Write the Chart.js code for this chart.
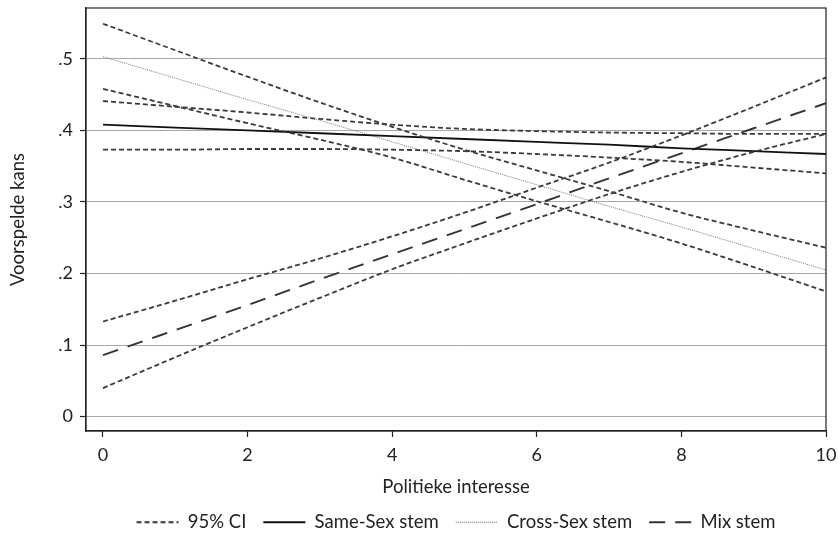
<!DOCTYPE html>
<html>
<head>
<meta charset="utf-8">
<script src="https://cdn.jsdelivr.net/npm/chart.js@4"></script>
<style>
  html, body { margin: 0; padding: 0; background: #fff; }
  #wrap { width: 838px; height: 537px; }
</style>
</head>
<body>
<div id="wrap"><canvas id="chart"></canvas></div>
<script>
// Politieke interesse (x) and predicted probabilities
const xValues = [0, 1, 2, 3, 4, 5, 6, 7, 8, 9, 10];

const sameSex      = [0.408, 0.404, 0.400, 0.396, 0.392, 0.388, 0.384, 0.380, 0.375, 0.371, 0.367];
const sameSexUpper = [0.441, 0.433, 0.425, 0.416, 0.408, 0.402, 0.399, 0.397, 0.396, 0.395, 0.395];
const sameSexLower = [0.373, 0.373, 0.374, 0.374, 0.373, 0.371, 0.367, 0.362, 0.356, 0.348, 0.340];

const crossSex      = [0.503, 0.473, 0.443, 0.414, 0.384, 0.354, 0.324, 0.294, 0.265, 0.235, 0.205];
const crossSexUpper = [0.549, 0.512, 0.475, 0.439, 0.405, 0.373, 0.344, 0.315, 0.285, 0.260, 0.236];
const crossSexLower = [0.458, 0.434, 0.410, 0.387, 0.362, 0.331, 0.301, 0.272, 0.242, 0.209, 0.175];

const mixStem  = [0.086, 0.121, 0.156, 0.192, 0.227, 0.262, 0.297, 0.333, 0.368, 0.403, 0.438];
const mixUpper = [0.133, 0.162, 0.192, 0.221, 0.252, 0.285, 0.320, 0.355, 0.393, 0.433, 0.474];
const mixLower = [0.040, 0.083, 0.125, 0.166, 0.206, 0.242, 0.277, 0.311, 0.342, 0.370, 0.395];

const xTicks = [0, 2, 4, 6, 8, 10];
const yTicks = [0, 0.1, 0.2, 0.3, 0.4, 0.5];
const legendLabels = ["95% CI", "Same-Sex stem", "Cross-Sex stem", "Mix stem"];

const FONT = "Lato";
const ciStyle = { color: "#3a3a3a", width: 1.8, dash: [5, 3] };
const styles = [
  ciStyle,
  { color: "#111111", width: 1.8, dash: [] },
  { color: "#7a7a7a", width: 1, dash: [1, 1] },
  { color: "#333333", width: 1.9, dash: [16, 10] },
];

function points(arr) {
  return xValues.map((x, i) => ({ x: x, y: arr[i] }));
}

function makeSet(arr, style) {
  return {
    data: points(arr),
    borderColor: style.color,
    borderWidth: style.width,
    borderDash: style.dash,
    pointRadius: 0,
    fill: false,
    cubicInterpolationMode: "monotone",
  };
}

// frame round the plot area
const framePlugin = {
  id: "frame",
  afterDatasetsDraw(chart) {
    const a = chart.chartArea;
    const ctx = chart.ctx;
    ctx.save();
    ctx.strokeStyle = "#222";
    ctx.lineWidth = 1.2;
    ctx.strokeRect(a.left, a.top, a.right - a.left, a.bottom - a.top);
    ctx.restore();
  },
};

const ctx = document.getElementById("chart").getContext("2d");
new Chart(ctx, {
  type: "line",
  data: {
    datasets: [
      makeSet(sameSexUpper, ciStyle),
      makeSet(sameSexLower, ciStyle),
      makeSet(crossSexUpper, ciStyle),
      makeSet(crossSexLower, ciStyle),
      makeSet(mixUpper, ciStyle),
      makeSet(mixLower, ciStyle),
      makeSet(sameSex, styles[1]),
      makeSet(crossSex, styles[2]),
      makeSet(mixStem, styles[3]),
    ],
  },
  options: {
    responsive: true,
    maintainAspectRatio: false,
    animation: false,
    layout: { padding: { left: 0, right: 12, top: 8, bottom: 0 } },
    plugins: {
      tooltip: { enabled: false },
      legend: {
        display: true,
        position: "bottom",
        fullSize: false,
        maxHeight: 41,
        labels: {
          usePointStyle: true,
          pointStyleWidth: 42,
          padding: 17,
          color: "#222",
          font: { family: FONT, size: 18.5 },
          generateLabels: function () {
            return legendLabels.map((text, i) => ({
              text: text,
              pointStyle: "line",
              strokeStyle: styles[i].color,
              fillStyle: "transparent",
              lineWidth: styles[i].width + 0.2,
              lineDash: styles[i].dash,
              fontColor: "#222",
              hidden: false,
              datasetIndex: i,
            }));
          },
        },
      },
    },
    scales: {
      x: {
        type: "linear",
        min: -0.235,
        max: 10,
        afterFit: (s) => {
          s.height = 65;
          s.paddingLeft = 0;
          s.paddingRight = 0;
        },
        afterBuildTicks: (s) => { s.ticks = xTicks.map((v) => ({ value: v })); },
        grid: {
          drawOnChartArea: false,
          drawTicks: true,
          tickLength: 6,
          tickColor: "#222",
          tickWidth: 1.2,
        },
        border: { display: true, color: "#222", width: 1.2 },
        ticks: {
          color: "#222",
          padding: 7,
          maxRotation: 0,
          font: { family: FONT, size: 18 },
        },
        title: {
          display: true,
          text: "Politieke interesse",
          color: "#222",
          padding: { top: 4, bottom: 0 },
          font: { family: FONT, size: 18.5, lineHeight: 1 },
        },
      },
      y: {
        type: "linear",
        min: -0.02,
        max: 0.571,
        afterFit: (s) => {
          s.width = 86;
          s.paddingTop = 0;
          s.paddingBottom = 0;
        },
        afterBuildTicks: (s) => { s.ticks = yTicks.map((v) => ({ value: v })); },
        grid: {
          color: "#a8a8a8",
          lineWidth: 1,
          drawTicks: true,
          tickLength: 6,
          tickColor: "#222",
          tickWidth: 1.2,
        },
        border: { display: true, color: "#222", width: 1.2 },
        ticks: {
          color: "#222",
          padding: 7,
          font: { family: FONT, size: 18 },
          callback: (v) => (v === 0 ? "0" : v.toFixed(1).replace(/^0\./, ".")),
        },
        title: {
          display: true,
          text: "Voorspelde kans",
          color: "#222",
          padding: { top: 7, bottom: 0 },
          font: { family: FONT, size: 18.5 },
        },
      },
    },
  },
  plugins: [framePlugin],
});
</script>
</body>
</html>
